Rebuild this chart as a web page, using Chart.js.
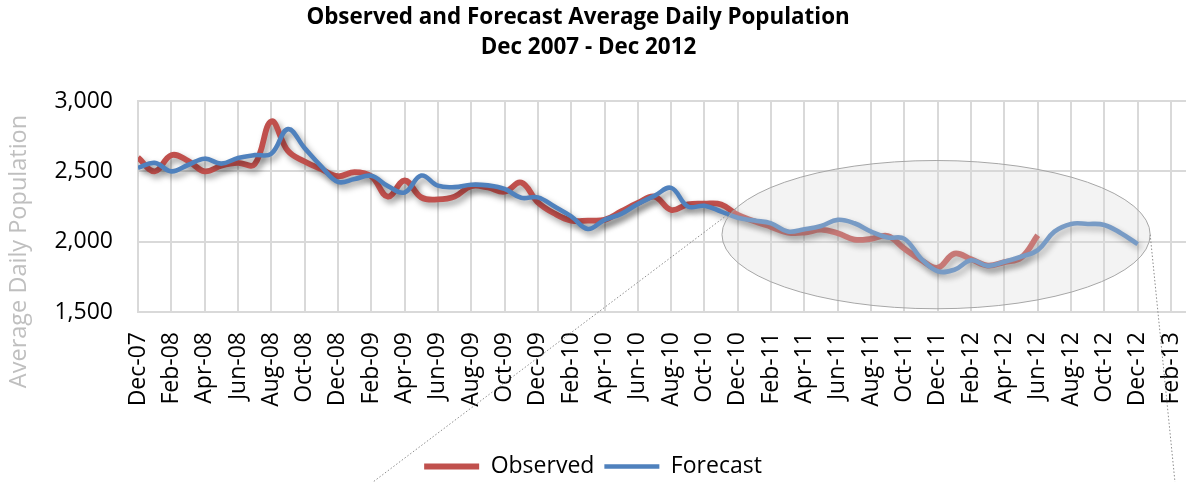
<!DOCTYPE html>
<html>
<head>
<meta charset="utf-8">
<script src="https://cdn.jsdelivr.net/npm/chart.js@4/dist/chart.umd.min.js"></script>
<style>
  html, body { margin: 0; padding: 0; background: #ffffff; }
  #wrap { width: 1186px; height: 482px; }
</style>
</head>
<body>
<div id="wrap"><canvas id="c" width="1186" height="482"></canvas></div>
<script>
// ---- data (monthly, index 0 = Dec-07) ----
const tickLabels = ['Dec-07','Feb-08','Apr-08','Jun-08','Aug-08','Oct-08','Dec-08','Feb-09','Apr-09','Jun-09','Aug-09','Oct-09','Dec-09','Feb-10','Apr-10','Jun-10','Aug-10','Oct-10','Dec-10','Feb-11','Apr-11','Jun-11','Aug-11','Oct-11','Dec-11','Feb-12','Apr-12','Jun-12','Aug-12','Oct-12','Dec-12','Feb-13'];

const observed = [2598,2500,2615,2575,2500,2540,2560,2550,2855,2645,2570,2515,
                  2465,2495,2465,2320,2435,2315,2300,2320,2395,2385,2355,2420,
                  2280,2200,2150,2150,2155,2215,2275,2320,2225,2265,2270,2265,
                  2190,2145,2105,2065,2065,2085,2060,2015,2020,2040,1950,1870,
                  1815,1915,1875,1830,1855,1885,2045];

const forecast = [2525,2560,2500,2545,2590,2555,2595,2615,2625,2800,2665,2535,
                  2425,2445,2468,2395,2350,2470,2398,2388,2405,2400,2375,2312,
                  2315,2250,2180,2090,2155,2198,2268,2326,2382,2250,2255,2214,
                  2170,2150,2130,2072,2088,2112,2155,2131,2072,2030,2020,1880,
                  1790,1800,1868,1828,1857,1893,1940,2071,2126,2126,2119,2060,
                  1983];

const seriesNames = ['Observed', 'Forecast'];
const yTicks = [1500, 2000, 2500, 3000];
const titleLines = ['Observed and Forecast Average Daily Population', 'Dec 2007 - Dec 2012'];
const yAxisTitle = 'Average Daily Population';

// ---- annotation (highlight ellipse in data units) ----
const highlight = { cx: 47.9, cy: 2050, rxMonths: 12.85, ryUnits: 527 };

const FONT = "'Open Sans', 'DejaVu Sans', sans-serif";

const toPoints = arr => arr.map((v, i) => ({ x: i, y: v }));

const shadowPlugin = {
  id: 'lineShadow',
  beforeDatasetDraw(chart) {
    const ctx = chart.ctx;
    ctx.save();
    ctx.shadowColor = 'rgba(0,0,0,0.38)';
    ctx.shadowBlur = 6;
    ctx.shadowOffsetX = 3;
    ctx.shadowOffsetY = 4;
  },
  afterDatasetDraw(chart) {
    chart.ctx.restore();
  }
};

const textPlugin = {
  id: 'chartTexts',
  afterDraw(chart) {
    const ctx = chart.ctx;
    const y = chart.scales.y;
    const W = chart.width;
    ctx.save();
    // chart title
    ctx.fillStyle = '#000';
    ctx.textAlign = 'center';
    ctx.textBaseline = 'middle';
    ctx.font = 'bold 22.4px ' + FONT;
    ctx.fillText(titleLines[0], W * 0.4874, 18);
    ctx.fillText(titleLines[1], W * 0.4962, 48);
    // y-axis title
    ctx.translate(19, (y.top + y.bottom) / 2 + 45);
    ctx.rotate(-Math.PI / 2);
    ctx.font = '23.5px ' + FONT;
    ctx.fillStyle = '#BFBFBF';
    ctx.fillText(yAxisTitle, 0, 0);
    ctx.restore();
  }
};

const ellipsePlugin = {
  id: 'highlightEllipse',
  afterDatasetsDraw(chart) {
    const { ctx, scales: { x, y } } = chart;
    const cx = x.getPixelForValue(highlight.cx);
    const cy = y.getPixelForValue(highlight.cy);
    const rx = x.getPixelForValue(highlight.cx + highlight.rxMonths) - cx;
    const ry = cy - y.getPixelForValue(highlight.cy + highlight.ryUnits);
    ctx.save();
    ctx.beginPath();
    ctx.ellipse(cx, cy, rx, ry, 0, 0, Math.PI * 2);
    ctx.fillStyle = 'rgba(215,215,215,0.30)';
    ctx.fill();
    ctx.lineWidth = 1;
    ctx.strokeStyle = '#A6A6A6';
    ctx.stroke();
    ctx.restore();
    chart._hl = { cx, cy, rx, ry };
  },
  afterDraw(chart) {
    const h = chart._hl;
    if (!h) return;
    const ctx = chart.ctx;
    const W = chart.width, H = chart.height;
    const a1 = 200.5 * Math.PI / 180;
    const p1 = { x: h.cx + h.rx * Math.cos(a1), y: h.cy + h.ry * Math.sin(a1) };
    const p2 = { x: h.cx + h.rx, y: h.cy };
    ctx.save();
    ctx.strokeStyle = '#8C8C8C';
    ctx.lineWidth = 1;
    ctx.setLineDash([1.5, 2]);
    ctx.beginPath();
    ctx.moveTo(p1.x, p1.y);
    ctx.lineTo(W * 0.3145, H);
    ctx.moveTo(p2.x, p2.y);
    ctx.lineTo(W * 0.9907, H);
    ctx.stroke();
    ctx.restore();
  }
};

new Chart(document.getElementById('c'), {
  type: 'line',
  data: {
    datasets: [
      {
        label: seriesNames[0],
        data: toPoints(observed),
        borderColor: '#C0504D',
        backgroundColor: '#C0504D',
        borderWidth: 5.8,
        pointRadius: 0,
        tension: 0.4,
        order: 1
      },
      {
        label: seriesNames[1],
        data: toPoints(forecast),
        borderColor: '#4F81BD',
        backgroundColor: '#4F81BD',
        borderWidth: 4.6,
        pointRadius: 0,
        tension: 0.4,
        order: 0
      }
    ]
  },
  options: {
    responsive: false,
    animation: false,
    devicePixelRatio: 1,
    layout: { padding: { top: 101, bottom: -6, left: 0, right: 0 } },
    plugins: {
      title: { display: false },
      legend: {
        position: 'bottom',
        labels: {
          color: '#000',
          font: { family: FONT, size: 23 },
          usePointStyle: true,
          pointStyle: 'line',
          pointStyleWidth: 55,
          boxHeight: 23,
          padding: 10,
          sort: (a, b) => a.datasetIndex - b.datasetIndex
        }
      },
      tooltip: { enabled: false }
    },
    scales: {
      x: {
        type: 'linear',
        min: 0,
        max: 62.9,
        grid: { color: '#D9D9D9', lineWidth: 2, drawTicks: false },
        border: { color: '#D9D9D9', width: 2 },
        ticks: {
          stepSize: 2,
          autoSkip: false,
          includeBounds: false,
          maxRotation: 90,
          minRotation: 90,
          padding: 20,
          color: '#000',
          font: { family: FONT, size: 23 },
          callback: v => (v % 2 === 0 ? tickLabels[v / 2] : '')
        },
        afterFit: s => { s.height = 133; s.paddingRight = 0; s.paddingLeft = 0; }
      },
      y: {
        min: yTicks[0],
        max: yTicks[yTicks.length - 1],
        grid: { color: '#D9D9D9', lineWidth: 2, drawTicks: false },
        border: { color: '#D9D9D9', width: 2 },
        ticks: {
          stepSize: yTicks[1] - yTicks[0],
          padding: 25,
          color: '#000',
          font: { family: FONT, size: 23 },
          callback: v => v.toLocaleString('en-US')
        },
        afterFit: s => { s.width = 138; }
      }
    }
  },
  plugins: [shadowPlugin, ellipsePlugin, textPlugin]
});
</script>
</body>
</html>
